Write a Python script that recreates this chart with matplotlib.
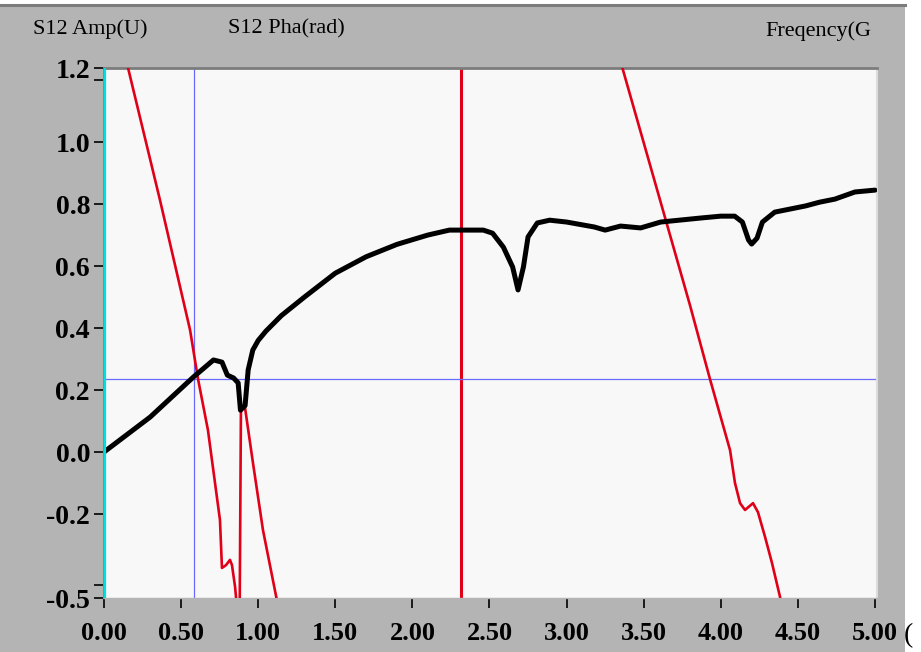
import matplotlib.pyplot as plt
from matplotlib.patches import Rectangle
from matplotlib.lines import Line2D

# --- DATA ---
# S12 amplitude trace (black)
amp_freq = [0.0, 0.30, 0.58, 0.71, 0.765, 0.80, 0.84, 0.87, 0.885, 0.915, 0.935, 0.965,
            1.00, 1.05, 1.15, 1.30, 1.50, 1.70, 1.90, 2.10, 2.24, 2.31, 2.46, 2.52,
            2.59, 2.65, 2.685, 2.72, 2.75, 2.81, 2.89, 3.00, 3.18, 3.25, 3.35, 3.48,
            3.61, 3.87, 4.00, 4.09, 4.14, 4.18, 4.20, 4.235, 4.27, 4.35, 4.45, 4.55,
            4.64, 4.74, 4.87, 5.0]
amp_val = [0.0, 0.113, 0.242, 0.297, 0.29, 0.248, 0.239, 0.223, 0.135, 0.15, 0.265, 0.329,
           0.36, 0.39, 0.44, 0.50, 0.577, 0.63, 0.67, 0.70, 0.716, 0.716, 0.716, 0.706,
           0.661, 0.597, 0.523, 0.597, 0.694, 0.739, 0.748, 0.742, 0.726, 0.716, 0.729, 0.723,
           0.742, 0.755, 0.761, 0.761, 0.742, 0.684, 0.671, 0.690, 0.742, 0.774, 0.784, 0.794,
           0.806, 0.816, 0.839, 0.845]

# S12 phase trace (red), two visible branches
pha1_freq = [0.14, 0.363, 0.558, 0.610, 0.674, 0.752, 0.765, 0.791, 0.817, 0.830, 0.850,
             0.862, 0.880, 0.888, 0.914, 0.966, 1.031, 1.13]
pha1_val = [1.272, 0.813, 0.394, 0.235, 0.071, -0.219, -0.374, -0.365, -0.348, -0.365, -0.435,
            -0.50, -0.50, 0.135, 0.145, -0.035, -0.252, -0.50]
pha2_freq = [3.35, 3.606, 3.80, 3.93, 4.06, 4.092, 4.125, 4.157, 4.209, 4.241, 4.287, 4.332, 4.39]
pha2_val = [1.26, 0.813, 0.474, 0.235, 0.006, -0.10, -0.165, -0.187, -0.165, -0.194, -0.274,
            -0.358, -0.48]

# cursors
cursor_x = 0.584
cursor_y = 0.235
marker_x = 2.315

x_ticks = [0.0, 0.5, 1.0, 1.5, 2.0, 2.5, 3.0, 3.5, 4.0, 4.5, 5.0]
y_min, y_max = -0.471, 1.239
y_ticks = [y_min, -0.43, -0.2, 0.0, 0.2, 0.4, 0.6, 0.8, 1.0, 1.2, y_max]
y_labels = ['-0.5', '', '-0.2', '0.0', '0.2', '0.4', '0.6', '0.8', '1.0', '', '1.2']

W, H = 921, 652
fig = plt.figure(figsize=(W / 100, H / 100), dpi=100, facecolor='white')

# grey panel behind the graph
fig.patches.append(Rectangle((0, 0), 905 / W, 1 - 4 / H, transform=fig.transFigure,
                             facecolor='#b4b4b4', edgecolor='none', zorder=-10))
fig.lines.append(Line2D([0, 905 / W], [1 - 5 / H, 1 - 5 / H], transform=fig.transFigure,
                        color='#7c7c7c', linewidth=2.2, zorder=-9))

ax = fig.add_axes([104 / W, 1 - 598 / H, 773 / W, 530 / H])
ax.set_zorder(1)
ax.set_facecolor('#f8f8f8')

ax.axvline(marker_x, color='#e00018', linewidth=2.2, zorder=2)
ax.axvline(cursor_x, color='#6a6aff', linewidth=0.9, zorder=2)
ax.axhline(cursor_y, color='#6a6aff', linewidth=0.9, zorder=2)
ax.axvline(0.005, color='#00dede', linewidth=1.6, zorder=5)

ax.plot(pha1_freq, pha1_val, color='#e00018', linewidth=1.9, zorder=3)
ax.plot(pha2_freq, pha2_val, color='#e00018', linewidth=1.9, zorder=3)
ax.plot(amp_freq, amp_val, color='black', linewidth=3.6, zorder=4,
        solid_joinstyle='round', solid_capstyle='round')

ax.set_xlim(0, 5.013)
ax.set_ylim(y_min, y_max)
ax.set_xticks(x_ticks)
ax.set_xticklabels([f'{v:.2f}' for v in x_ticks])
ax.set_yticks(y_ticks)
ax.set_yticklabels(y_labels)

for lbl in ax.get_xticklabels():
    lbl.set_fontfamily('Liberation Serif')
    lbl.set_fontweight('bold')
    lbl.set_fontsize(19)
for lbl in ax.get_yticklabels():
    lbl.set_fontfamily('Liberation Serif')
    lbl.set_fontweight('bold')
    lbl.set_fontsize(20)

ax.tick_params(axis='x', direction='out', length=7, width=1.2, pad=10, colors='black')
ax.tick_params(axis='y', direction='out', length=7, width=1.2, pad=3, colors='black')

ax.spines['top'].set_color('#7c7c7c')
ax.spines['top'].set_linewidth(2)
ax.spines['left'].set_color('#8a8a8a')
ax.spines['left'].set_linewidth(1.5)
ax.spines['right'].set_color('#dcdcdc')
ax.spines['right'].set_linewidth(1.5)
ax.spines['bottom'].set_color('#b4b4b4')
ax.spines['bottom'].set_linewidth(1)

head = {'family': 'Liberation Serif', 'size': 16, 'va': 'center', 'ha': 'left'}
fig.text(33 / W, 1 - 29 / H, 'S12 Amp(U)', **head)
fig.text(228 / W, 1 - 29 / H, 'S12 Pha(rad)', **head)
fig.text(765 / W, 1 - 31 / H, 'Freqency(G', **head)
fig.text(904 / W, 1 - 636 / H, '(', family='Liberation Serif', size=20, va='center', ha='left')

fig.savefig('out.png', dpi=100, facecolor='white')
